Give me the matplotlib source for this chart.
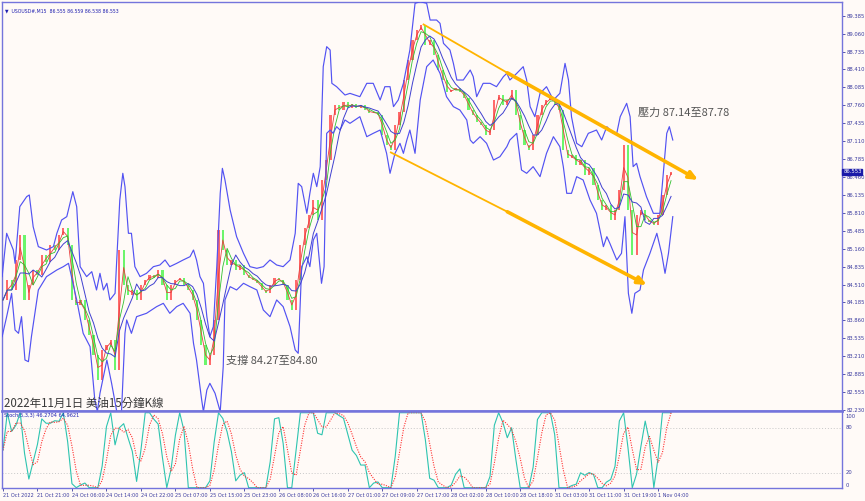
import numpy as np
import pandas as pd
import matplotlib
matplotlib.use("Agg")
import matplotlib.pyplot as plt
from matplotlib.transforms import blended_transform_factory

plt.rcParams['font.family'] = ['DejaVu Sans', 'Noto Sans CJK TC']

# ---------------- data (hourly samples of the M15 chart) ----------------
closes = [84.229, 84.592, 84.411, 84.955, 85.408, 84.229, 84.501, 84.773, 84.683, 85.045,
          84.918, 85.227, 85.136, 85.408, 85.535, 85.227, 84.229, 84.139, 84.229, 83.866,
          83.594, 83.231, 82.778, 83.322, 83.413, 83.504, 82.960, 85.136, 84.501, 84.320,
          84.411, 84.229, 84.501, 84.592, 84.683, 84.628, 84.773, 84.501, 84.229, 84.501,
          84.592, 84.628, 84.501, 84.411, 84.229, 83.866, 83.413, 83.050, 83.231, 83.866,
          85.499, 85.136, 84.864, 84.955, 84.773, 84.864, 84.683, 84.628, 84.592, 84.538,
          84.411, 84.356, 84.501, 84.628, 84.592, 84.501, 84.229, 84.048, 84.592, 85.227,
          85.535, 85.771, 86.043, 85.680, 86.406, 86.768, 87.584, 87.766, 87.675, 87.820,
          87.711, 87.784, 87.711, 87.766, 87.675, 87.621, 87.639, 87.584, 87.222, 87.040,
          86.950, 87.403, 87.639, 88.219, 88.582, 88.945, 89.126, 89.217, 88.854, 88.945,
          88.673, 88.400, 88.219, 88.001, 88.038, 88.074, 88.001, 87.893, 87.675, 87.584,
          87.457, 87.403, 87.222, 87.312, 87.856, 87.947, 87.766, 87.856, 88.038, 87.584,
          87.312, 87.040, 86.950, 87.222, 87.584, 87.766, 87.856, 87.893, 87.766, 87.675,
          86.950, 86.805, 86.859, 86.678, 86.768, 86.496, 86.624, 86.315, 86.043, 85.862,
          85.952, 85.680, 85.862, 86.224, 87.040, 85.862, 85.045, 85.771, 85.862, 85.680,
          85.644, 85.589, 85.771, 86.134, 86.496, 86.553]

upper_t = [-0.2, 0.85, 2.4, 2.8, 3.9, 5.5, 6.1, 7.0, 7.4, 8.2, 10.1, 11.7, 12.5, 13.6, 14.8,
           16.2, 17.1, 17.9, 19.4, 20.6, 21.7, 22.5, 23.3, 24.1, 24.8, 26.0, 27.1, 27.8, 28.3,
           29.1, 29.8, 30.6, 31.8, 33.3, 34.9, 36.4, 37.6, 38.7, 40.3, 41.8, 43.4, 44.2, 44.9,
           45.7, 46.5, 47.3, 48.0, 48.8, 49.6, 50.4, 50.9, 51.5, 52.7, 54.2, 55.8, 57.3, 58.9,
           60.4, 61.95, 63.5, 65.0, 66.6, 67.8, 68.5, 69.3, 70.5, 71.2, 72.0, 72.8, 73.6, 74.3,
           75.1, 75.9, 76.3, 77.4, 79.35, 80.5, 82.8, 84.4, 85.9, 87.5, 88.6, 89.8, 90.6, 91.7,
           92.9, 94.4, 95.6, 96.8, 98.3, 99.1, 100.6, 101.4, 102.2, 103.7, 104.5, 105.3, 106.8,
           108.4, 109.1, 109.9, 111.4, 113.0, 114.5, 116.1, 116.9, 117.6, 119.2, 120.7, 121.5,
           122.3, 123.4, 124.6, 126.1, 127.7, 129.2, 130.4, 131.2, 131.9, 133.1, 134.3, 135.8,
           137.7, 138.9, 140.1, 141.6, 142.4, 143.2, 144.7, 145.5, 146.2, 147.0, 147.8, 149.3,
           150.9, 152.4, 153.2, 154.0, 154.6, 155.4]
upper_v = [84.653, 85.439, 85.136, 84.894, 85.922, 86.104, 86.134, 85.559, 85.439, 85.197,
           85.136, 85.197, 85.439, 85.680, 85.741, 86.194, 85.922, 84.834, 84.653, 84.743,
           84.411, 84.713, 84.411, 84.532, 84.230, 84.350, 86.043, 86.527, 86.285, 85.439,
           85.439, 84.834, 84.653, 84.713, 84.834, 84.864, 84.955, 84.834, 84.894, 84.955,
           85.015, 85.136, 84.955, 84.653, 84.532, 83.927, 83.565, 83.746, 84.834, 86.164,
           86.617, 86.406, 85.862, 85.378, 85.076, 84.834, 84.804, 84.834, 84.955, 84.864,
           84.834, 84.955, 85.439, 86.345, 86.285, 85.801, 86.164, 86.527, 86.285, 86.648,
           88.461, 88.824, 88.763, 88.159, 88.098, 87.947, 87.977, 87.917, 88.159, 88.159,
           87.857, 88.098, 88.098, 87.736, 87.857, 88.159, 88.763, 89.610, 89.640, 89.610,
           89.307, 89.307, 89.247, 88.884, 88.763, 88.521, 88.219, 88.219, 88.400, 88.280,
           87.917, 88.159, 88.159, 88.098, 88.280, 88.340, 88.219, 88.340, 88.461, 88.219,
           87.736, 87.554, 87.977, 88.098, 87.857, 87.977, 88.521, 88.219, 87.554, 87.071,
           87.010, 87.252, 87.312, 87.131, 87.373, 87.252, 87.252, 87.554, 87.796, 87.554,
           86.648, 86.708, 86.466, 86.103, 85.801, 85.801, 86.527, 87.252, 87.373, 87.131]

lower_t = [-0.2, 0.85, 2.0, 2.8, 3.6, 4.3, 5.1, 5.9, 6.6, 8.2, 10.1, 12.5, 14.0, 15.2, 17.1,
           18.6, 20.2, 21.3, 21.9, 22.5, 24.1, 25.2, 26.4, 27.5, 28.3, 28.7, 29.8, 31.0, 33.3,
           35.65, 37.2, 38.7, 40.3, 41.8, 43.4, 44.2, 44.9, 46.1, 46.5, 47.3, 48.0, 49.2, 50.4,
           51.1, 51.5, 52.7, 54.2, 55.8, 57.3, 58.9, 60.4, 61.95, 63.5, 65.0, 66.6, 67.8, 68.5,
           69.3, 70.5, 71.2, 72.0, 72.8, 73.9, 74.5, 75.1, 75.9, 76.6, 77.4, 78.2, 79.35, 80.5,
           82.8, 84.4, 85.9, 87.5, 89.0, 89.8, 90.95, 92.1, 92.9, 93.7, 94.4, 95.6, 96.8, 98.3,
           99.8, 101.4, 102.9, 104.5, 106.0, 107.6, 108.4, 109.1, 110.7, 112.2, 113.8, 115.3,
           116.9, 117.6, 119.2, 120.3, 121.5, 123.0, 124.6, 126.1, 127.7, 129.2, 130.0, 130.8,
           131.9, 133.1, 134.6, 136.2, 137.7, 139.3, 140.1, 140.8, 142.4, 143.5, 144.3, 145.1,
           145.9, 146.6, 147.8, 148.6, 150.1, 151.7, 152.8, 153.6, 154.4, 155.4]
lower_v = [83.565, 83.927, 84.350, 83.685, 83.625, 83.927, 83.141, 83.111, 83.565, 84.411,
           84.653, 84.774, 84.834, 84.894, 84.230, 83.625, 83.383, 82.416, 82.205, 82.537,
           83.141, 82.718, 82.205, 82.205, 83.625, 83.867, 83.625, 83.927, 83.988, 84.109,
           84.169, 83.988, 84.109, 84.169, 83.988, 83.444, 83.141, 82.416, 82.205, 82.597,
           82.718, 82.537, 82.205, 83.021, 84.230, 84.471, 84.411, 84.532, 84.471, 84.411,
           84.048, 83.927, 84.230, 84.109, 83.746, 83.323, 83.262, 84.834, 85.015, 84.834,
           85.318, 85.439, 84.532, 84.834, 87.252, 87.312, 87.252, 87.373, 87.312, 87.494,
           87.433, 87.554, 87.191, 87.252, 87.312, 86.889, 86.527, 86.889, 87.071, 86.889,
           87.131, 87.312, 86.889, 87.857, 88.461, 88.582, 88.340, 87.917, 87.736, 87.675,
           87.494, 87.131, 87.071, 87.191, 87.071, 86.768, 86.829, 87.010, 87.131, 87.252,
           86.587, 86.527, 86.648, 86.466, 86.889, 87.191, 87.010, 86.648, 86.164, 86.164,
           86.466, 86.406, 86.043, 85.801, 85.197, 85.378, 85.257, 84.955, 85.076, 85.741,
           84.350, 83.988, 84.350, 84.411, 84.774, 85.076, 85.439, 85.076, 84.713, 85.076,
           85.741]

price_ticks = [89.385, 89.060, 88.735, 88.410, 88.085, 87.760, 87.435, 87.110, 86.785, 86.460,
               86.135, 85.810, 85.485, 85.160, 84.835, 84.510, 84.185, 83.860, 83.535, 83.210,
               82.885, 82.555, 82.230]
stoch_ticks = [100, 80, 20, 0]

time_labels = ["21 Oct 2022", "21 Oct 21:00", "24 Oct 06:00", "24 Oct 14:00", "24 Oct 22:00",
               "25 Oct 07:00", "25 Oct 15:00", "25 Oct 23:00", "26 Oct 08:00", "26 Oct 16:00",
               "27 Oct 01:00", "27 Oct 09:00", "27 Oct 17:00", "28 Oct 02:00", "28 Oct 10:00",
               "28 Oct 18:00", "31 Oct 03:00", "31 Oct 11:00", "31 Oct 19:00", "1 Nov 04:00"]

# channel (trend) lines: [start, thick start, end]
chan_up_t = [97.4, 117.0, 161.3]
chan_up_p = [89.235, 88.350, 86.406]
chan_lo_t = [89.8, 117.0, 149.4]
chan_lo_p = [86.913, 85.830, 84.501]

last_price = 86.553
resist_text = "壓力 87.14至87.78"
resist_pos = (147.3, 87.62)
support_text = "支撐 84.27至84.80"
support_pos = (51.7, 83.12)
title_text = "2022年11月1日 美油15分鐘K線"
header_text = "\u25BC  USOUSD#,M15  86.555 86.559 86.538 86.553"
stoch_text = "Stoch(5,3,3) 46.2704 64.9621"

# ---------------- derived series ----------------
c = pd.Series(closes)
t = np.arange(len(c))
opens = c.shift(1).fillna(c.iloc[0])
mid = c.rolling(5, min_periods=1).mean()
ma_red = c.rolling(2, min_periods=1).mean()
ma_green = c.rolling(3, min_periods=1).mean()
lo = c.rolling(4, min_periods=1).min()
hi = c.rolling(4, min_periods=1).max()
num = (c - lo).rolling(2, min_periods=1).sum()
den = (hi - lo).rolling(2, min_periods=1).sum().replace(0, np.nan)
k = (100 * num / den).fillna(50)
d = k.rolling(3, min_periods=1).mean()

# ---------------- figure ----------------
BG = '#fffaf7'
BORDER = '#7474dc'
TXT = '#3c3ca0'
fig = plt.figure(figsize=(8.65, 5.01), dpi=100, facecolor=BG)
ax = fig.add_axes([2/865, 1-411/501, 840/865, 409/501], facecolor=BG)
ax2 = fig.add_axes([2/865, 1-488/501, 840/865, 77/501], facecolor=BG)

xlim = (-0.23, 194.66)
ax.set_xlim(*xlim)
ax.set_ylim(82.216, 89.634)

# candles
up = c >= opens
body_h = (c - opens).abs().clip(lower=0.02)
body_b = np.minimum(c, opens)
ax.bar(t[up], body_h[up], bottom=body_b[up], width=0.5, color='#ff6a6a', linewidth=0, zorder=2)
ax.bar(t[~up], body_h[~up], bottom=body_b[~up], width=0.5, color='#6cf56c', linewidth=0, zorder=2)
ax.plot(t, ma_red, color='#e84040', lw=0.6, zorder=3)
ax.plot(t, ma_green, color='#30c030', lw=0.6, zorder=3)

# bollinger bands
ax.plot(upper_t, upper_v, color='#5252f2', lw=0.85, zorder=4)
ax.plot(lower_t, lower_v, color='#5252f2', lw=0.85, zorder=4)
ax.plot(t, mid, color='#4040d0', lw=0.7, zorder=4)

# channel lines
ORANGE = '#ffb400'
ax.plot(chan_up_t[:2], chan_up_p[:2], color=ORANGE, lw=1.3, zorder=5, solid_capstyle='butt')
ax.plot(chan_lo_t[:2], chan_lo_p[:2], color=ORANGE, lw=1.3, zorder=5, solid_capstyle='butt')
for tt, pp in ((chan_up_t, chan_up_p), (chan_lo_t, chan_lo_p)):
    ax.annotate('', xy=(tt[2], pp[2]), xytext=(tt[1], pp[1]),
                arrowprops=dict(arrowstyle='-|>,head_length=0.5,head_width=0.22',
                                lw=2.6, color=ORANGE, shrinkA=0, shrinkB=0), zorder=5)

# texts
ax.text(resist_pos[0], resist_pos[1], resist_text, fontsize=8, color='#555555',
        family=['Noto Sans CJK TC', 'DejaVu Sans'], va='center', ha='left', zorder=6)
ax.text(support_pos[0], support_pos[1], support_text, fontsize=8, color='#555555',
        family=['Noto Sans CJK TC', 'DejaVu Sans'], va='center', ha='left', zorder=6)
ax.text(0.002, 0.002, title_text, transform=ax.transAxes, fontsize=8.3, color='#3a3a3a',
        family=['Noto Sans CJK TC', 'DejaVu Sans'], va='bottom', ha='left', zorder=6)
ax.text(0.004, 0.985, header_text, transform=ax.transAxes, fontsize=3.3, color='#2020b0',
        va='top', ha='left', zorder=6)

# axes styling main
ax.yaxis.tick_right()
ax.set_yticks(price_ticks)
ax.set_yticklabels([f'{v:.3f}' for v in price_ticks])
ax.tick_params(axis='y', direction='out', length=2, width=0.6, color=TXT, labelsize=3.8,
               labelcolor=TXT, pad=1)
ax.set_xticks([])
for s in ax.spines.values():
    s.set_color(BORDER)
    s.set_linewidth(1.0)
ax.spines['bottom'].set_linewidth(1.8)

tr = blended_transform_factory(ax.transAxes, ax.transData)
ax.text(1.0015, last_price, f'{last_price:.3f}', transform=tr, fontsize=3.8, color='white',
        va='center', ha='left', zorder=7,
        bbox=dict(boxstyle='square,pad=0.15', fc='#1a1aa8', ec='#1a1aa8'), clip_on=False)

# stochastic panel
ax2.set_xlim(*xlim)
ax2.set_ylim(-0.4, 102.3)
ax2.axhline(80, color='#c8c8c8', lw=0.7, ls=(0, (1, 2)))
ax2.axhline(20, color='#c8c8c8', lw=0.7, ls=(0, (1, 2)))
ax2.plot(t, k, color='#2ec4b0', lw=0.8)
ax2.plot(t, d, color='#ff3030', lw=0.8, ls=(0, (1, 1.2)))
ax2.text(0.002, 0.97, stoch_text, transform=ax2.transAxes, fontsize=3.6, color='#2020b0',
         va='top', ha='left')
ax2.set_yticks([])
tr2 = blended_transform_factory(ax2.transAxes, ax2.transData)
stoch_label_off = {100: -4.5, 80: 0, 20: 0, 0: 3.5}
for v in stoch_ticks:
    ax2.text(1.004, v + stoch_label_off[v], str(v), transform=tr2, fontsize=3.8,
             color=TXT, va='center', ha='left', clip_on=False)
ax2.set_xticks(np.arange(0, 8 * len(time_labels), 8))
ax2.set_xticklabels(time_labels, ha='left')
ax2.tick_params(axis='x', direction='out', length=2, width=0.6, color=TXT,
                labelsize=3.6, labelcolor=TXT, pad=1.5)
for s in ax2.spines.values():
    s.set_color(BORDER)
    s.set_linewidth(1.0)
ax2.spines['top'].set_linewidth(1.8)

fig.savefig('out.png', dpi=100, facecolor=BG)
